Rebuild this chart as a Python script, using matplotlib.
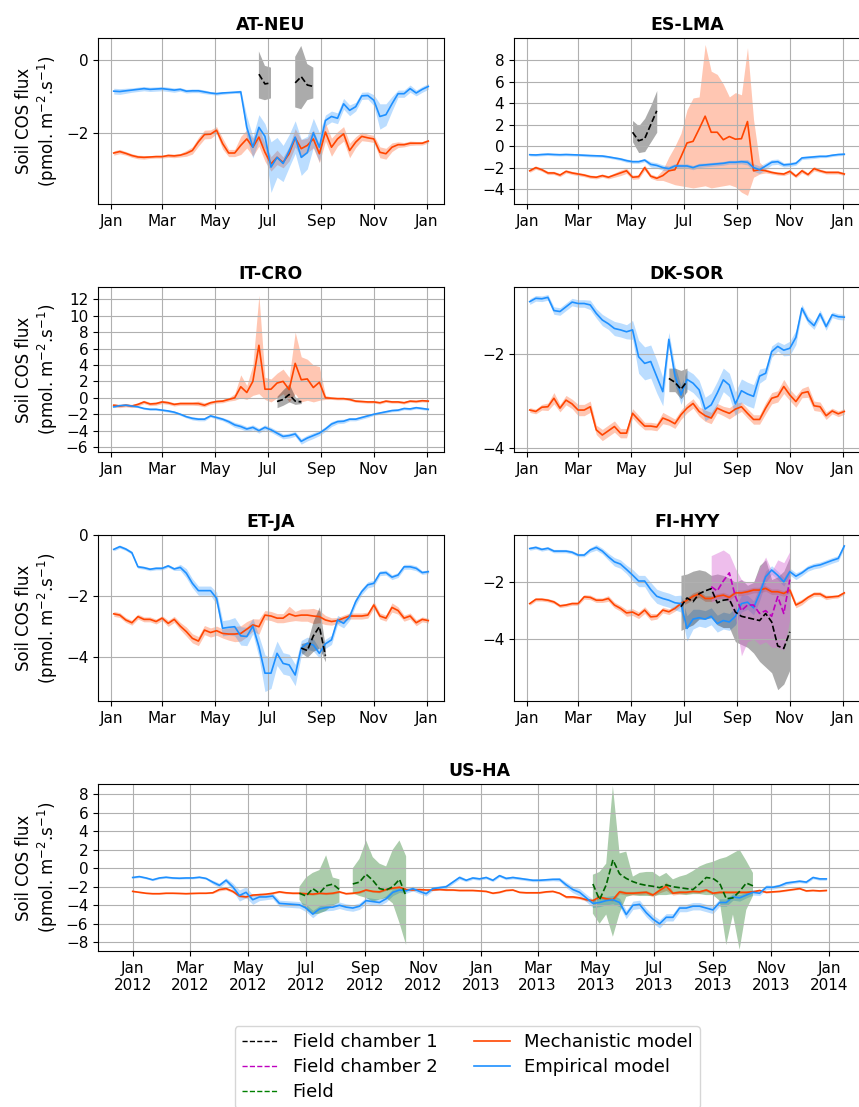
import numpy as np
import pandas as pd
import matplotlib
matplotlib.use("Agg")
import matplotlib.pyplot as plt
import matplotlib.dates as mdates
from matplotlib.lines import Line2D

MECH_COLOR = "orangered"
EMP_COLOR = "dodgerblue"

# weekly time axes
weeks = pd.date_range("2015-01-04", periods=53, freq="7D")
weeks_us = pd.date_range("2012-01-01", periods=105, freq="7D")

# ---------------- AT-NEU ----------------
at_mech = [-2.56, -2.52, -2.57, -2.63, -2.67, -2.68, -2.67, -2.66, -2.66, -2.63,
           -2.64, -2.62, -2.57, -2.49, -2.25, -2.05, -2.04, -1.93, -2.30, -2.56,
           -2.56, -2.35, -2.17, -2.40, -2.12, -2.54, -2.86, -2.68, -2.82, -2.58,
           -2.14, -2.44, -2.35, -2.17, -2.58, -1.98, -2.40, -2.17, -2.03, -2.49,
           -2.26, -2.10, -2.14, -2.17, -2.54, -2.58, -2.40, -2.33, -2.33, -2.29,
           -2.29, -2.29, -2.23]
at_mech_sd = [0.06, 0.06, 0.05, 0.05, 0.05, 0.05, 0.04, 0.04, 0.04, 0.05,
              0.05, 0.05, 0.08, 0.10, 0.12, 0.12, 0.12, 0.10, 0.15, 0.10,
              0.10, 0.25, 0.25, 0.25, 0.25, 0.25, 0.20, 0.20, 0.15, 0.20,
              0.25, 0.25, 0.20, 0.25, 0.25, 0.25, 0.25, 0.20, 0.20, 0.20,
              0.15, 0.12, 0.10, 0.10, 0.15, 0.15, 0.12, 0.08, 0.06, 0.06,
              0.05, 0.05, 0.05]
at_emp = [-0.85, -0.86, -0.84, -0.82, -0.80, -0.78, -0.80, -0.79, -0.78, -0.80,
          -0.82, -0.80, -0.85, -0.84, -0.84, -0.87, -0.90, -0.92, -0.90, -0.89,
          -0.88, -0.87, -1.85, -2.40, -1.85, -2.10, -2.95, -2.68, -2.85, -2.50,
          -2.12, -2.68, -2.55, -2.00, -2.40, -1.66, -1.55, -1.60, -1.20, -1.38,
          -1.28, -0.98, -0.97, -1.10, -1.55, -1.50, -1.20, -0.92, -0.92, -0.78,
          -0.90, -0.80, -0.72]
at_emp_sd = [0.08, 0.08, 0.07, 0.06, 0.06, 0.06, 0.06, 0.06, 0.06, 0.06,
             0.06, 0.05, 0.05, 0.05, 0.05, 0.05, 0.04, 0.04, 0.04, 0.03,
             0.03, 0.05, 0.30, 0.30, 0.35, 0.35, 0.70, 0.55, 0.50, 0.45,
             0.45, 0.50, 0.45, 0.40, 0.40, 0.15, 0.15, 0.15, 0.15, 0.15,
             0.12, 0.10, 0.10, 0.15, 0.35, 0.30, 0.20, 0.10, 0.10, 0.10,
             0.08, 0.08, 0.08]
at_ch1_idx = [24, 25, 26, 30, 31, 32, 33]
at_ch1 = [-0.38, -0.65, -0.62, -0.62, -0.45, -0.68, -0.72]
at_ch1_lo = [-1.05, -1.10, -1.05, -1.30, -1.35, -1.10, -1.05]
at_ch1_hi = [0.25, -0.15, -0.20, 0.10, 0.40, -0.10, -0.20]

# ---------------- ES-LMA ----------------
es_mech = [-2.30, -2.00, -2.20, -2.50, -2.50, -2.70, -2.35, -2.50, -2.60, -2.70,
           -2.85, -2.90, -2.75, -2.90, -2.70, -2.50, -2.30, -2.90, -2.85, -2.00,
           -2.80, -3.00, -2.75, -2.30, -2.20, -1.00, 0.30, 0.45, 1.60, 2.80,
           1.30, 1.30, 0.60, 0.90, 0.65, 0.70, 2.30, -2.30, -2.20, -2.30,
           -2.45, -2.55, -2.60, -2.35, -2.80, -2.30, -2.65, -2.10, -2.30, -2.45,
           -2.45, -2.45, -2.60]
es_mech_lo = [-2.45, -2.15, -2.35, -2.65, -2.65, -2.85, -2.50, -2.65, -2.75, -2.85,
              -3.00, -3.05, -2.90, -3.05, -2.90, -2.75, -2.55, -3.10, -3.05, -2.25,
              -3.00, -3.20, -3.20, -3.40, -3.60, -3.70, -3.80, -3.90, -3.80, -3.70,
              -3.90, -3.80, -3.70, -3.60, -3.80, -4.30, -4.60, -2.90, -2.60, -2.50,
              -2.60, -2.70, -2.75, -2.55, -2.95, -2.50, -2.80, -2.30, -2.45, -2.60,
              -2.60, -2.60, -2.75]
es_mech_hi = [-2.15, -1.85, -2.05, -2.35, -2.35, -2.55, -2.20, -2.35, -2.45, -2.55,
              -2.70, -2.75, -2.60, -2.75, -2.50, -2.25, -2.05, -2.70, -2.65, -1.75,
              -2.60, -2.80, -2.20, -1.00, 0.00, 1.20, 3.40, 4.50, 4.60, 9.50,
              7.00, 6.70, 5.80, 4.60, 5.00, 4.80, 9.20, 2.50, -1.50, -2.10,
              -2.30, -2.40, -2.45, -2.15, -2.65, -2.10, -2.50, -1.90, -2.15, -2.30,
              -2.30, -2.30, -2.45]
es_emp = [-0.80, -0.82, -0.78, -0.75, -0.78, -0.80, -0.78, -0.80, -0.82, -0.85,
          -0.88, -0.90, -0.92, -1.00, -1.10, -1.20, -1.35, -1.45, -1.45, -1.30,
          -1.70, -1.80, -2.00, -2.10, -1.85, -1.85, -1.85, -2.00, -1.80, -1.75,
          -1.70, -1.65, -1.60, -1.50, -1.50, -1.45, -1.50, -2.00, -2.20, -1.85,
          -1.50, -1.45, -1.75, -1.70, -1.60, -1.10, -1.05, -1.00, -0.95, -0.95,
          -0.85, -0.78, -0.75]
es_emp_sd = [0.12, 0.12, 0.12, 0.12, 0.12, 0.12, 0.12, 0.12, 0.12, 0.12,
             0.12, 0.12, 0.12, 0.12, 0.12, 0.14, 0.15, 0.15, 0.15, 0.15,
             0.25, 0.25, 0.25, 0.25, 0.22, 0.20, 0.20, 0.20, 0.20, 0.18,
             0.18, 0.18, 0.18, 0.18, 0.18, 0.20, 0.25, 0.35, 0.35, 0.30,
             0.25, 0.25, 0.20, 0.20, 0.18, 0.15, 0.15, 0.15, 0.12, 0.12,
             0.12, 0.12, 0.12]
es_ch1_idx = [17, 18, 19, 20, 21]
es_ch1 = [1.30, 0.50, 0.70, 2.00, 3.30]
es_ch1_lo = [0.40, -0.60, -0.50, 0.40, 1.30]
es_ch1_hi = [2.40, 1.90, 2.60, 3.80, 5.20]

# ---------------- IT-CRO ----------------
it_mech = [-0.90, -1.00, -0.90, -1.00, -0.80, -0.50, -0.75, -0.70, -0.50, -0.60,
           -0.80, -0.70, -0.70, -0.70, -0.70, -0.90, -0.60, -0.45, -0.40, -0.20,
           0.00, 1.35, 0.65, 2.00, 6.40, 1.05, 1.05, 1.80, 2.00, 1.00,
           4.20, 2.20, 2.30, 1.25, 1.90, 0.00, -0.05, -0.10, -0.10, -0.20,
           -0.40, -0.45, -0.50, -0.50, -0.60, -0.40, -0.50, -0.50, -0.60, -0.40,
           -0.45, -0.35, -0.40]
it_mech_lo = [-1.10, -1.20, -1.10, -1.20, -1.00, -0.70, -0.95, -0.90, -0.70, -0.80,
              -1.00, -0.90, -0.90, -0.90, -0.95, -1.10, -0.80, -0.65, -0.60, -0.40,
              -0.30, 0.00, -0.20, 0.30, 0.50, -0.20, -0.50, 0.00, 0.50, -0.50,
              0.50, -0.50, -0.30, -0.50, -0.30, -0.20, -0.20, -0.25, -0.25, -0.35,
              -0.55, -0.60, -0.65, -0.65, -0.75, -0.55, -0.65, -0.65, -0.75, -0.55,
              -0.60, -0.50, -0.55]
it_mech_hi = [-0.70, -0.80, -0.70, -0.80, -0.60, -0.30, -0.55, -0.50, -0.30, -0.40,
              -0.60, -0.50, -0.50, -0.50, -0.40, -0.60, -0.40, -0.25, -0.20, 0.00,
              0.50, 2.80, 1.50, 4.00, 12.50, 2.50, 2.30, 3.00, 3.50, 2.50,
              8.00, 5.00, 4.70, 4.00, 3.80, 0.30, 0.10, 0.05, 0.05, -0.05,
              -0.25, -0.30, -0.35, -0.35, -0.45, -0.25, -0.35, -0.35, -0.45, -0.25,
              -0.30, -0.20, -0.25]
it_emp = [-1.10, -0.95, -0.90, -1.00, -1.10, -1.30, -1.40, -1.40, -1.50, -1.60,
          -1.75, -2.00, -2.30, -2.50, -2.60, -2.60, -2.20, -2.40, -2.60, -2.90,
          -3.30, -3.50, -3.80, -3.60, -4.00, -3.60, -3.90, -4.30, -4.70, -4.60,
          -4.40, -5.30, -4.90, -4.60, -4.30, -3.80, -3.20, -2.90, -2.85, -2.60,
          -2.60, -2.40, -2.20, -2.00, -1.85, -1.70, -1.55, -1.50, -1.30, -1.35,
          -1.20, -1.30, -1.40]
it_emp_sd = [0.10, 0.10, 0.10, 0.10, 0.10, 0.10, 0.12, 0.12, 0.12, 0.15,
             0.15, 0.15, 0.15, 0.20, 0.20, 0.20, 0.15, 0.20, 0.20, 0.25,
             0.30, 0.30, 0.30, 0.30, 0.30, 0.30, 0.30, 0.30, 0.30, 0.30,
             0.30, 0.35, 0.35, 0.35, 0.30, 0.30, 0.30, 0.25, 0.25, 0.20,
             0.20, 0.20, 0.20, 0.15, 0.15, 0.15, 0.15, 0.15, 0.15, 0.15,
             0.15, 0.15, 0.15]
it_ch1_idx = [27, 28, 29, 30, 31]
it_ch1 = [-0.45, -0.20, 0.40, -0.40, -0.50]
it_ch1_lo = [-1.20, -0.90, -0.50, -0.80, -0.70]
it_ch1_hi = [0.20, 1.00, 1.70, 0.10, -0.30]

# ---------------- DK-SOR ----------------
dk_mech = [-3.19, -3.22, -3.13, -3.12, -2.94, -3.15, -2.98, -3.06, -3.19, -3.19,
           -3.12, -3.61, -3.72, -3.63, -3.54, -3.68, -3.68, -3.26, -3.40, -3.53,
           -3.53, -3.55, -3.36, -3.41, -3.48, -3.29, -3.15, -3.05, -3.22, -3.31,
           -3.36, -3.15, -3.21, -3.26, -3.17, -3.12, -3.26, -3.39, -3.39, -3.15,
           -2.94, -2.90, -2.69, -2.87, -3.01, -2.83, -2.80, -3.10, -3.12, -3.31,
           -3.21, -3.27, -3.22]
dk_mech_sd = [0.05, 0.05, 0.06, 0.08, 0.12, 0.08, 0.10, 0.10, 0.12, 0.12,
              0.12, 0.10, 0.12, 0.12, 0.12, 0.10, 0.10, 0.10, 0.10, 0.08,
              0.08, 0.08, 0.12, 0.10, 0.10, 0.10, 0.10, 0.10, 0.10, 0.12,
              0.12, 0.10, 0.10, 0.12, 0.12, 0.10, 0.10, 0.10, 0.10, 0.12,
              0.12, 0.12, 0.15, 0.12, 0.12, 0.10, 0.12, 0.10, 0.10, 0.08,
              0.06, 0.06, 0.06]
dk_emp = [-0.89, -0.82, -0.83, -0.80, -1.08, -1.10, -1.00, -0.90, -0.93, -0.93,
          -0.96, -1.14, -1.28, -1.36, -1.46, -1.49, -1.53, -1.49, -2.06, -2.20,
          -2.16, -2.48, -2.80, -1.69, -2.45, -2.87, -2.54, -2.62, -2.76, -3.17,
          -3.08, -2.83, -2.55, -2.66, -3.06, -2.78, -2.85, -2.90, -2.47, -2.41,
          -1.95, -1.84, -1.92, -1.88, -1.65, -1.03, -1.28, -1.40, -1.15, -1.42,
          -1.17, -1.21, -1.22]
dk_emp_sd = [0.06, 0.06, 0.06, 0.06, 0.08, 0.08, 0.08, 0.08, 0.08, 0.08,
             0.10, 0.10, 0.12, 0.12, 0.15, 0.15, 0.15, 0.20, 0.35, 0.35,
             0.35, 0.35, 0.30, 0.15, 0.20, 0.20, 0.20, 0.20, 0.20, 0.25,
             0.25, 0.25, 0.25, 0.25, 0.25, 0.25, 0.25, 0.25, 0.15, 0.12,
             0.12, 0.10, 0.12, 0.15, 0.15, 0.08, 0.08, 0.08, 0.08, 0.08,
             0.06, 0.06, 0.06]
dk_ch1_idx = [23, 24, 25, 26]
dk_ch1 = [-2.52, -2.60, -2.75, -2.58]
dk_ch1_lo = [-2.80, -2.80, -2.95, -2.80]
dk_ch1_hi = [-2.30, -2.30, -2.35, -2.30]

# ---------------- ET-JA ----------------
et_mech = [-2.58, -2.62, -2.78, -2.87, -2.67, -2.76, -2.76, -2.83, -2.72, -2.89,
           -2.76, -2.98, -3.16, -3.38, -3.47, -3.11, -3.19, -3.13, -3.22, -3.24,
           -3.24, -3.22, -3.08, -2.94, -3.00, -2.62, -2.65, -2.72, -2.72, -2.58,
           -2.65, -2.62, -2.62, -2.65, -2.67, -2.78, -2.83, -2.80, -2.72, -2.65,
           -2.65, -2.65, -2.62, -2.29, -2.65, -2.72, -2.37, -2.47, -2.72, -2.65,
           -2.87, -2.76, -2.80]
et_mech_sd = [0.08, 0.08, 0.08, 0.08, 0.08, 0.08, 0.08, 0.08, 0.08, 0.10,
              0.10, 0.12, 0.15, 0.15, 0.15, 0.15, 0.15, 0.15, 0.15, 0.20,
              0.25, 0.25, 0.25, 0.20, 0.25, 0.15, 0.15, 0.15, 0.15, 0.25,
              0.15, 0.20, 0.20, 0.25, 0.20, 0.15, 0.12, 0.10, 0.10, 0.10,
              0.10, 0.10, 0.10, 0.12, 0.10, 0.10, 0.15, 0.12, 0.10, 0.10,
              0.10, 0.08, 0.08]
et_emp = [-0.47, -0.38, -0.46, -0.58, -1.04, -1.07, -1.12, -1.09, -1.09, -1.01,
          -1.11, -1.06, -1.25, -1.58, -1.82, -1.82, -1.82, -2.07, -3.05, -3.02,
          -3.00, -3.30, -3.32, -2.98, -3.65, -4.52, -4.52, -3.87, -4.20, -4.25,
          -4.58, -3.70, -3.54, -3.60, -3.87, -3.56, -3.43, -2.78, -2.89, -2.67,
          -2.18, -1.85, -1.63, -1.58, -1.25, -1.23, -1.38, -1.31, -1.04, -1.04,
          -1.09, -1.23, -1.20]
et_emp_sd = [0.05, 0.05, 0.05, 0.05, 0.05, 0.05, 0.05, 0.05, 0.05, 0.05,
             0.05, 0.10, 0.15, 0.15, 0.15, 0.15, 0.15, 0.20, 0.25, 0.25,
             0.30, 0.30, 0.30, 0.25, 0.35, 0.60, 0.50, 0.40, 0.35, 0.35,
             0.35, 0.25, 0.20, 0.20, 0.15, 0.15, 0.15, 0.15, 0.15, 0.12,
             0.12, 0.10, 0.10, 0.10, 0.08, 0.08, 0.08, 0.08, 0.08, 0.08,
             0.08, 0.06, 0.06]
et_ch1_idx = [31, 32, 33, 34, 35]
et_ch1 = [-3.70, -3.78, -3.30, -3.00, -3.95]
et_ch1_lo = [-3.85, -4.00, -3.80, -3.70, -4.15]
et_ch1_hi = [-3.55, -3.50, -2.80, -2.35, -3.70]

# ---------------- FI-HYY ----------------
fi_mech = [-2.75, -2.60, -2.60, -2.63, -2.69, -2.83, -2.80, -2.75, -2.75, -2.51,
           -2.53, -2.63, -2.63, -2.57, -2.80, -2.92, -3.08, -3.05, -3.16, -2.98,
           -3.22, -3.20, -2.98, -3.04, -2.92, -2.75, -2.63, -2.49, -2.41, -2.57,
           -2.57, -2.49, -2.45, -2.53, -2.37, -2.37, -2.33, -2.27, -2.27, -2.21,
           -2.33, -2.33, -2.39, -2.27, -2.80, -2.69, -2.53, -2.41, -2.41, -2.53,
           -2.51, -2.49, -2.37]
fi_mech_sd = [0.06, 0.06, 0.06, 0.06, 0.06, 0.06, 0.06, 0.06, 0.06, 0.08,
              0.08, 0.08, 0.08, 0.10, 0.10, 0.10, 0.12, 0.12, 0.12, 0.12,
              0.12, 0.10, 0.10, 0.10, 0.10, 0.10, 0.10, 0.12, 0.12, 0.10,
              0.10, 0.10, 0.10, 0.10, 0.10, 0.10, 0.10, 0.10, 0.10, 0.10,
              0.10, 0.10, 0.10, 0.10, 0.10, 0.10, 0.08, 0.08, 0.08, 0.08,
              0.06, 0.06, 0.06]
fi_emp = [-0.80, -0.76, -0.83, -0.79, -0.89, -0.89, -0.89, -0.93, -1.03, -1.03,
          -0.85, -0.76, -0.89, -1.09, -1.27, -1.35, -1.54, -1.74, -1.95, -1.95,
          -2.25, -2.49, -2.57, -2.63, -2.72, -2.75, -3.63, -3.30, -3.25, -3.30,
          -3.20, -3.46, -3.35, -3.40, -3.20, -2.75, -2.70, -2.90, -2.40, -1.80,
          -1.56, -1.75, -1.98, -1.62, -1.78, -1.66, -1.50, -1.42, -1.38, -1.30,
          -1.22, -1.15, -0.71]
fi_emp_sd = [0.06, 0.06, 0.06, 0.06, 0.06, 0.06, 0.06, 0.06, 0.06, 0.06,
             0.08, 0.10, 0.10, 0.12, 0.15, 0.15, 0.15, 0.20, 0.20, 0.20,
             0.25, 0.25, 0.25, 0.25, 0.25, 0.30, 0.45, 0.35, 0.30, 0.30,
             0.30, 0.30, 0.30, 0.30, 0.30, 0.30, 0.25, 0.25, 0.25, 0.20,
             0.15, 0.15, 0.15, 0.12, 0.12, 0.10, 0.10, 0.10, 0.10, 0.10,
             0.10, 0.10, 0.08]
fi_ch1_idx = list(range(25, 44))
fi_ch1 = [-2.86, -2.55, -2.68, -2.40, -2.30, -2.22, -2.72, -2.63, -2.60, -3.05,
          -3.20, -3.25, -3.30, -3.35, -3.10, -3.40, -4.25, -4.34, -3.75]
fi_ch1_lo = [-3.70, -3.60, -3.50, -3.30, -3.30, -3.25, -3.50, -3.60, -3.60, -4.10,
             -4.20, -4.30, -4.50, -4.80, -5.00, -5.20, -5.80, -5.60, -5.10]
fi_ch1_hi = [-1.75, -1.70, -1.60, -1.55, -1.60, -1.75, -1.70, -1.75, -1.85, -2.00,
             -1.90, -2.10, -2.00, -1.40, -1.20, -1.90, -1.80, -1.60, -1.10]
fi_ch2_idx = list(range(30, 44))
fi_ch2 = [-2.15, -2.30, -1.95, -1.66, -2.50, -3.00, -2.80, -2.80, -3.10, -3.00,
          -3.20, -2.50, -3.10, -1.90]
fi_ch2_lo = [-2.70, -2.60, -2.55, -2.70, -3.30, -4.60, -4.10, -4.00, -4.20, -4.10,
             -4.30, -4.30, -4.40, -3.30]
fi_ch2_hi = [-1.05, -0.95, -0.85, -1.00, -1.50, -1.90, -2.00, -2.00, -1.50, -1.10,
             -1.60, -1.20, -1.30, -0.90]

# ---------------- US-HA (2012-2013) ----------------
us_mech = [-2.50, -2.60, -2.70, -2.75, -2.75, -2.70, -2.70, -2.72, -2.75, -2.72,
           -2.70, -2.70, -2.65, -2.30, -2.20, -2.50, -3.00, -3.10, -2.90, -2.85,
           -2.80, -2.70, -2.55, -2.65, -2.70, -2.70, -2.75, -2.80, -2.70, -2.75,
           -2.70, -2.55, -2.75, -2.70, -2.60, -2.35, -2.50, -2.55, -2.30, -2.15,
           -2.05, -2.30, -2.35, -2.30, -2.35, -2.35, -2.30, -2.35, -2.35, -2.40,
           -2.40, -2.40, -2.45, -2.50, -2.70, -2.60, -2.40, -2.35, -2.60, -2.65,
           -2.65, -2.65, -2.55, -2.50, -2.70, -3.10, -3.10, -3.20, -3.40, -3.50,
           -3.10, -3.30, -3.40, -2.55, -2.70, -2.70, -2.65, -2.60, -2.90, -2.40,
           -1.95, -2.70, -2.60, -2.60, -2.50, -2.55, -2.35, -2.70, -2.60, -2.60,
           -2.60, -2.60, -2.60, -2.55, -2.40, -2.60, -2.55, -2.50, -2.40, -2.30,
           -2.20, -2.45, -2.40, -2.45, -2.40]
us_mech_sd = [0.06, 0.06, 0.06, 0.06, 0.06, 0.06, 0.06, 0.06, 0.06, 0.06,
              0.06, 0.06, 0.08, 0.15, 0.15, 0.15, 0.15, 0.12, 0.12, 0.10,
              0.10, 0.10, 0.10, 0.10, 0.10, 0.10, 0.10, 0.10, 0.10, 0.10,
              0.10, 0.10, 0.10, 0.10, 0.10, 0.10, 0.10, 0.10, 0.10, 0.10,
              0.10, 0.10, 0.10, 0.08, 0.08, 0.08, 0.08, 0.08, 0.08, 0.08,
              0.08, 0.08, 0.08, 0.08, 0.08, 0.08, 0.08, 0.08, 0.08, 0.08,
              0.08, 0.08, 0.08, 0.08, 0.10, 0.15, 0.15, 0.15, 0.15, 0.15,
              0.15, 0.15, 0.15, 0.20, 0.20, 0.20, 0.20, 0.20, 0.20, 0.25,
              0.45, 0.20, 0.20, 0.15, 0.15, 0.15, 0.15, 0.15, 0.12, 0.12,
              0.12, 0.12, 0.10, 0.10, 0.10, 0.10, 0.08, 0.08, 0.08, 0.08,
              0.08, 0.08, 0.08, 0.08, 0.08]
us_emp = [-1.00, -0.90, -1.05, -1.25, -1.05, -0.97, -1.05, -1.08, -1.05, -1.05,
          -0.97, -1.10, -1.50, -1.85, -1.30, -2.00, -2.95, -2.60, -3.40, -3.10,
          -3.10, -3.00, -3.80, -3.85, -3.90, -3.95, -4.30, -4.95, -4.40, -4.25,
          -4.20, -4.00, -4.20, -4.30, -4.10, -3.50, -3.60, -3.70, -3.30, -2.60,
          -2.35, -2.45, -2.20, -2.50, -2.75, -2.20, -2.10, -2.00, -1.50, -1.00,
          -1.30, -1.05, -1.15, -1.00, -1.30, -0.80, -1.10, -1.00, -1.10, -1.20,
          -1.30, -1.30, -1.25, -1.20, -1.20, -1.80, -2.30, -2.60, -3.20, -3.80,
          -3.70, -3.50, -3.40, -3.70, -5.00, -4.00, -3.90, -4.80, -5.50, -6.00,
          -5.30, -5.30, -4.30, -4.30, -4.10, -4.10, -4.30, -4.50, -3.70, -3.70,
          -3.10, -3.20, -2.90, -2.60, -2.70, -2.05, -2.05, -1.90, -1.60, -1.50,
          -1.40, -1.50, -1.00, -1.15, -1.15]
us_emp_sd = [0.10, 0.10, 0.10, 0.10, 0.10, 0.10, 0.10, 0.10, 0.10, 0.10,
             0.10, 0.10, 0.20, 0.25, 0.25, 0.40, 0.60, 0.60, 0.50, 0.40,
             0.30, 0.30, 0.35, 0.35, 0.35, 0.35, 0.40, 0.40, 0.35, 0.35,
             0.35, 0.35, 0.35, 0.35, 0.35, 0.35, 0.35, 0.35, 0.35, 0.35,
             0.25, 0.25, 0.25, 0.25, 0.25, 0.20, 0.20, 0.20, 0.20, 0.20,
             0.15, 0.15, 0.15, 0.15, 0.15, 0.15, 0.15, 0.15, 0.15, 0.15,
             0.15, 0.15, 0.15, 0.15, 0.20, 0.30, 0.35, 0.40, 0.40, 0.45,
             0.45, 0.45, 0.45, 0.45, 0.45, 0.45, 0.45, 0.45, 0.45, 0.45,
             0.40, 0.40, 0.40, 0.40, 0.40, 0.40, 0.40, 0.40, 0.40, 0.40,
             0.35, 0.35, 0.30, 0.30, 0.25, 0.25, 0.20, 0.20, 0.20, 0.15,
             0.15, 0.15, 0.15, 0.15, 0.15]
us_field_idx = list(range(25, 32)) + list(range(33, 42)) + list(range(69, 94))
us_field = [-2.70, -3.00, -2.20, -2.70, -1.90, -1.72, -2.30,
            -1.70, -1.50, -0.65, -1.30, -2.20, -2.35, -2.00, -1.20, -3.05,
            -1.70, -3.40, -1.80, 0.90, -0.60, -1.10, -1.45, -1.70, -1.85, -1.95,
            -2.10, -1.80, -2.00, -2.10, -2.20, -2.30, -1.70, -1.00, -1.10, -1.60,
            -3.30, -3.20, -2.50, -1.60, -1.90]
us_field_lo = [-3.40, -4.50, -5.00, -4.90, -4.60, -4.00, -3.70,
               -2.70, -3.00, -3.20, -3.60, -3.40, -3.20, -3.80, -5.90, -8.30,
               -4.90, -6.00, -5.00, -7.40, -4.90, -3.10, -2.90, -3.00, -3.00, -3.00,
               -2.90, -2.90, -2.80, -2.80, -2.90, -2.80, -2.80, -2.90, -2.90, -3.50,
               -8.30, -5.00, -8.80, -4.50, -3.00]
us_field_hi = [-2.00, -1.00, -0.50, -0.20, 1.40, -1.00, -1.20,
               0.00, 1.00, 3.00, 1.20, 0.50, 0.20, 2.00, 3.00, 1.30,
               -0.70, -0.40, 0.50, 8.90, 1.60, 1.80, -0.90, -0.50, -0.40, -0.40,
               -0.90, -0.50, -1.20, -0.90, -0.70, -0.30, 0.20, 0.50, 0.70, 1.00,
               1.20, 1.60, 2.00, 0.80, -0.50]

month_ticks = [1, 3, 5, 7, 9, 11]


def on_weeks(n, idx, vals):
    out = np.full(n, np.nan)
    out[idx] = vals
    return out


def draw_model(ax, t, mean, lo, hi, color):
    ax.fill_between(t, lo, hi, color=color, alpha=0.3, lw=0)
    ax.plot(t, mean, color=color, lw=1.2)


def draw_obs(ax, t, idx, mean, lo, hi, color, fill, alpha):
    n = len(t)
    ax.fill_between(t, on_weeks(n, idx, lo), on_weeks(n, idx, hi),
                    color=fill, alpha=alpha, lw=0)
    ax.plot(t, on_weeks(n, idx, mean), color=color, ls="--", lw=1.2)


def sym(mean, sd):
    m = np.asarray(mean)
    s = np.asarray(sd)
    return m - s, m + s


W, H = 859, 1107


def rect(x0, y0, x1, y1):
    return [x0 / W, 1 - y1 / H, (x1 - x0) / W, (y1 - y0) / H]


if __name__ == "__main__":
    fig = plt.figure(figsize=(8.59, 11.07), dpi=100)

    panels = [
        ("AT-NEU", rect(98, 38, 444, 204), (-3.97, 0.62), [-2, 0],
         (at_mech, *sym(at_mech, at_mech_sd)), (at_emp, *sym(at_emp, at_emp_sd)),
         [(at_ch1_idx, at_ch1, at_ch1_lo, at_ch1_hi, "k", "k", 0.33)]),
        ("ES-LMA", rect(514, 38, 860, 204), (-5.4, 10.1), list(range(-4, 9, 2)),
         (es_mech, es_mech_lo, es_mech_hi), (es_emp, *sym(es_emp, es_emp_sd)),
         [(es_ch1_idx, es_ch1, es_ch1_lo, es_ch1_hi, "k", "k", 0.33)]),
        ("IT-CRO", rect(98, 287, 444, 452), (-6.6, 13.5), list(range(-6, 13, 2)),
         (it_mech, it_mech_lo, it_mech_hi), (it_emp, *sym(it_emp, it_emp_sd)),
         [(it_ch1_idx, it_ch1, it_ch1_lo, it_ch1_hi, "k", "k", 0.33)]),
        ("DK-SOR", rect(514, 287, 860, 452), (-4.08, -0.58), [-4, -2],
         (dk_mech, *sym(dk_mech, dk_mech_sd)), (dk_emp, *sym(dk_emp, dk_emp_sd)),
         [(dk_ch1_idx, dk_ch1, dk_ch1_lo, dk_ch1_hi, "k", "k", 0.33)]),
        ("ET-JA", rect(98, 535, 444, 701), (-5.43, 0.0), [-4, -2, 0],
         (et_mech, *sym(et_mech, et_mech_sd)), (et_emp, *sym(et_emp, et_emp_sd)),
         [(et_ch1_idx, et_ch1, et_ch1_lo, et_ch1_hi, "k", "k", 0.33)]),
        ("FI-HYY", rect(514, 535, 860, 701), (-6.2, -0.32), [-4, -2],
         (fi_mech, *sym(fi_mech, fi_mech_sd)), (fi_emp, *sym(fi_emp, fi_emp_sd)),
         [(fi_ch1_idx, fi_ch1, fi_ch1_lo, fi_ch1_hi, "k", "k", 0.33),
          (fi_ch2_idx, fi_ch2, fi_ch2_lo, fi_ch2_hi, "m", "orchid", 0.45)]),
    ]

    ylabel = "Soil COS flux\n(pmol. m$^{-2}$.s$^{-1}$)"

    for k, (name, pos, ylim, yticks, mech, emp, obs) in enumerate(panels):
        ax = fig.add_axes(pos)
        draw_model(ax, weeks, *mech, MECH_COLOR)
        draw_model(ax, weeks, *emp, EMP_COLOR)
        for idx, m, lo, hi, c, f, a in obs:
            draw_obs(ax, weeks, idx, m, lo, hi, c, f, a)
        ax.set_ylim(*ylim)
        ax.set_yticks(yticks)
        ax.xaxis.set_major_locator(mdates.MonthLocator(bymonth=month_ticks))
        ax.xaxis.set_major_formatter(mdates.DateFormatter("%b"))
        ax.grid(True)
        ax.tick_params(labelsize=11)
        ax.set_title(name, fontsize=12.5, fontweight="bold")
        if k % 2 == 0:
            ax.set_ylabel(ylabel, fontsize=12)

    # two-year panel
    ax = fig.add_axes(rect(98, 784, 861, 951))
    draw_model(ax, weeks_us, us_mech, *sym(us_mech, us_mech_sd), MECH_COLOR)
    draw_model(ax, weeks_us, us_emp, *sym(us_emp, us_emp_sd), EMP_COLOR)
    draw_obs(ax, weeks_us, us_field_idx, us_field, us_field_lo, us_field_hi,
             "darkgreen", "darkgreen", 0.33)
    ax.set_ylim(-8.94, 9.1)
    ax.set_yticks(list(range(-8, 9, 2)))
    ax.xaxis.set_major_locator(mdates.MonthLocator(bymonth=month_ticks))
    ax.xaxis.set_major_formatter(mdates.DateFormatter("%b\n%Y"))
    ax.grid(True)
    ax.tick_params(labelsize=11)
    ax.set_title("US-HA", fontsize=12.5, fontweight="bold")
    ax.set_ylabel(ylabel, fontsize=12)

    handles = [
        Line2D([], [], color="k", ls="--", lw=1.0),
        Line2D([], [], color="m", ls="--", lw=1.0),
        Line2D([], [], color="green", ls="--", lw=1.0),
        Line2D([], [], color=MECH_COLOR, lw=1.2),
        Line2D([], [], color=EMP_COLOR, lw=1.2),
    ]
    labels = ["Field chamber 1", "Field chamber 2", "Field",
              "Mechanistic model", "Empirical model"]
    fig.legend(handles, labels, loc="upper center", ncol=2, fontsize=13,
               labelspacing=0.38, borderaxespad=0.0,
               bbox_to_anchor=(0.5442, 1 - 1026 / H))

    fig.savefig("out.png", dpi=100)
